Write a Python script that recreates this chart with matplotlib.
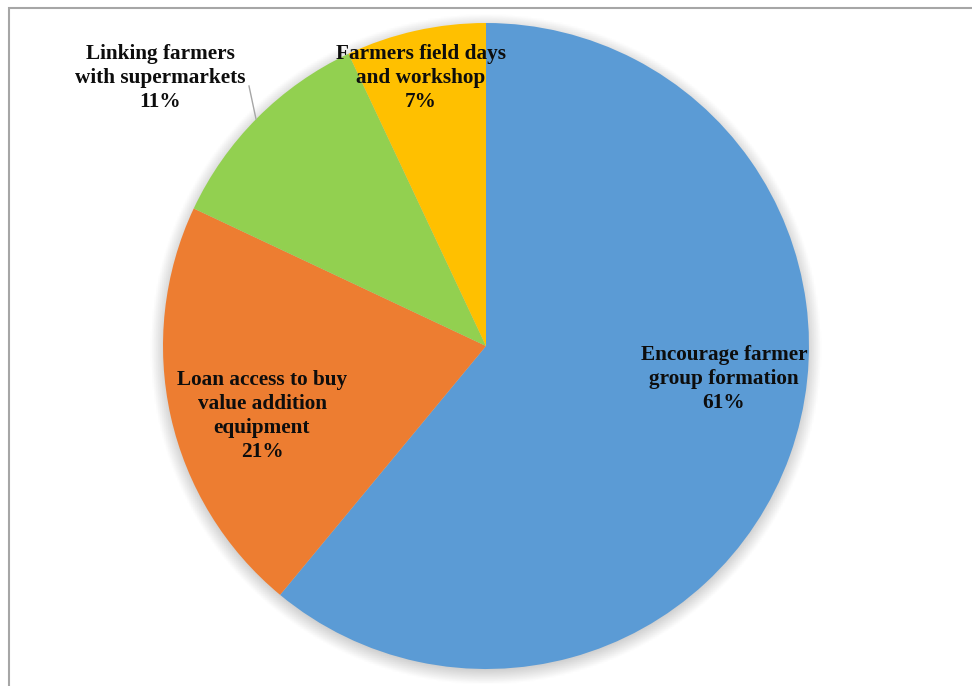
import numpy as np
import matplotlib.pyplot as plt
from matplotlib.patches import Rectangle

# Suggested interventions, share of respondents
labels = ['Encourage farmer\ngroup formation', 'Loan access to buy\nvalue addition\nequipment',
          'Linking farmers\nwith supermarkets', 'Farmers field days\nand workshop']
shares = [61, 21, 11, 7]
colors = ['#5B9BD5', '#ED7D31', '#92D050', '#FFC000']

W, H = 972, 686
R = 323.0
cx, cy = 486.0, 346.0

fig = plt.figure(figsize=(W / 100, H / 100), dpi=100)
ax = fig.add_axes([0, 0, 1, 1])

def px(x, y):
    # pixel position -> data coords
    return (x - cx) / R, (cy - y) / R

# soft drop shadow under the pie
gx = np.linspace(-1.2, 1.2, 400)
gxx, gyy = np.meshgrid(gx, gx)
d = np.sqrt(gxx ** 2 + (gyy + 0.01) ** 2)
alpha = np.clip((1.04 - d) / 0.055, 0, 1) * 0.4
shadow = np.zeros((400, 400, 4))
shadow[..., :3] = 0.45
shadow[..., 3] = alpha
ax.imshow(shadow, extent=(-1.2, 1.2, -1.2, 1.2), origin='lower', zorder=0)

ax.pie(shares, colors=colors, startangle=90, counterclock=False, radius=1.0,
       wedgeprops=dict(linewidth=0), center=(0, 0), frame=True)
ax.set_xlim(-cx / R, (W - cx) / R)
ax.set_ylim(-(H - cy) / R, cy / R)
ax.set_aspect('equal')
ax.axis('off')

# label positions (pixel centres)
label_pos = [(724, 379), (262, 416), (160, 78), (421, 78)]
font = dict(family='Liberation Serif', fontweight='bold', fontsize=15.3,
            color='#0d0d0d', ha='center', va='center', linespacing=1.25)
for lab, val, (lx, ly) in zip(labels, shares, label_pos):
    x, y = px(lx, ly)
    ax.text(x, y, f'{lab}\n{val}%', zorder=5, **font)

# leader line for the green slice label
x0, y0 = px(249, 86)
x1, y1 = px(256, 119)
ax.plot([x0, x1], [y0, y1], color='#a6a6a6', lw=1.0, zorder=4)

# chart area border
fig.patches.append(Rectangle((8.5 / W, -0.01), 1.0, 1 - 7.5 / H + 0.01,
                             transform=fig.transFigure, fill=False,
                             edgecolor='#a6a6a6', lw=1.5))

fig.savefig('out.png', dpi=100)
